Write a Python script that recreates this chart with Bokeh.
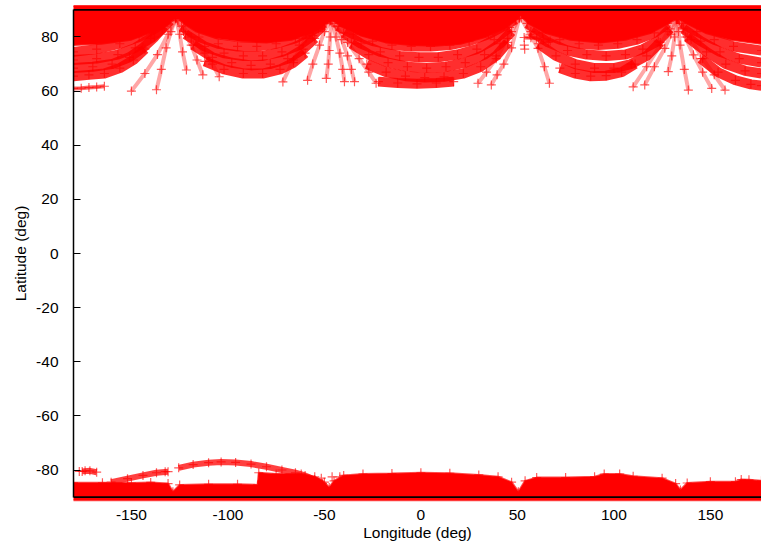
from bokeh.plotting import figure
from bokeh.models import Range1d, Span, FixedTicker, CustomJSTickFormatter
from bokeh.embed import file_html
from bokeh.resources import INLINE

# ---- data (longitude, latitude in degrees) ----
# upper edge of the solid northern coverage
top_lon = [-180, -165.5, -150, -137, -130.3, -126.7, -123, -116.3, -106, -93, -80, -67, -57, -51, -46,
           -41.5, -31, -18.3, -5.4, 7.5, 20.5, 33.5, 43.8, 49, 51.6, 55.7, 64.6, 77.5, 93, 106, 119,
           128.5, 133, 137.7, 147.5, 160.5, 176.5]
top_lat = [77.0, 77.5, 79.0, 82.5, 85.0, 87.4, 85.0, 82.0, 79.5, 78.3, 78.0, 79.0, 81.5, 84.0, 86.3,
           84.0, 80.5, 78.0, 77.0, 76.8, 77.5, 80.0, 83.5, 86.0, 87.8, 85.0, 81.5, 79.0, 78.0, 79.0, 81.5,
           85.0, 87.0, 85.0, 81.5, 79.0, 77.5]

# U-shaped track bands below the solid northern coverage
arc_lons = [
    [-180, -168, -156, -146, -138, -132],
    [-180, -168, -157, -148, -140, -134, -130],
    [-180, -170, -160, -151, -144, -138, -133],
    [-180, -172, -164, -156, -149, -143],
    [-124, -115, -105, -95, -85, -75, -65, -56, -50],
    [-122, -112, -102, -92, -82, -72, -63, -56, -51],
    [-118, -108, -98, -88, -78, -69, -61, -55],
    [-112, -102, -92, -82, -73, -66, -60],
    [-43, -35, -25, -15, -5, 5, 15, 25, 35, 43, 49],
    [-40, -31, -21, -11, -1, 9, 19, 29, 38, 46],
    [-36, -27, -17, -7, 3, 13, 23, 33, 41, 47],
    [-28, -18, -8, 2, 12, 22, 31, 39, 45],
    [-22, -12, -2, 8, 17],
    [55, 63, 72, 82, 92, 102, 112, 121, 128],
    [57, 66, 76, 86, 96, 106, 115, 123, 129],
    [61, 70, 80, 90, 100, 109, 117, 124],
    [72, 80, 88, 96, 104, 111],
    [135, 143, 152, 162, 176.5],
    [136, 145, 155, 165, 176.5],
    [138, 148, 158, 168, 176.5],
    [145, 154, 163, 171, 176.5],
]
arc_lats = [
    [74.5, 75.5, 77.5, 80, 83, 86],
    [71.5, 72, 73.5, 76, 79.5, 83, 86],
    [68.5, 69, 70, 72.5, 76, 80, 84],
    [65.5, 66, 66.5, 68.5, 71.5, 75.5],
    [84, 80, 77.5, 76.5, 76.5, 77.5, 79.5, 82.5, 85],
    [81, 76.5, 74, 73, 73, 74.5, 77, 80.5, 84],
    [77, 72.5, 70.5, 69.5, 70, 72, 75.5, 79.5],
    [71, 68, 66.5, 66.5, 68, 70.5, 74],
    [84, 81, 78.5, 77, 76.5, 76.5, 77, 78.5, 81, 84, 86.5],
    [81.5, 77.5, 74.5, 73, 72.5, 72.5, 73.5, 75.5, 79, 83.5],
    [77.5, 73.5, 70.5, 69, 68.5, 69, 70.5, 73.5, 77.5, 82],
    [70, 67, 65.5, 65, 65.3, 66.5, 69, 73, 78],
    [63.5, 63, 62.7, 63, 63.5],
    [85, 81.5, 79, 77.5, 77, 77.5, 79, 81.5, 85],
    [82, 78, 75, 73.5, 73, 73.5, 75.5, 78.5, 83],
    [77.5, 73, 70, 68.5, 68.5, 70, 73, 78],
    [68.5, 66.5, 65.5, 65.7, 67, 70],
    [85, 82, 79, 76.5, 75],
    [83, 78.5, 74.5, 72, 70.5],
    [80, 74.5, 70, 67.5, 66.5],
    [72, 67, 64, 62.5, 62],
]

# thin short strings of points
thin_lons = [[-180, -176, -172, -168, -164], [53.5, 57, 60, 63.5, 67]]
thin_lats = [[61, 61.1, 61.3, 61.5, 61.8], [79.8, 79.7, 79.5, 79.0, 78.5]]

# fan-shaped strings of points spreading below each northern cusp
fan_lons = [
    [-127, -131, -136.5, -143, -150],
    [-127, -129.5, -132, -134.5, -137],
    [-127, -125, -123.5, -121.5],
    [-127, -123, -119, -116, -113],
    [-126, -119, -112, -108, -104.5],
    [-47, -53, -59.5, -66, -71.5],
    [-47, -50, -52.5, -56, -58.7],
    [-46.5, -47, -47.5, -48, -49],
    [-46, -44, -42, -40.5, -39.6],
    [-45, -41, -38, -36, -34.4],
    [-44, -38, -32, -27, -23.2],
    [51, 45, 39, 34, 29.6],
    [51, 47, 43, 39.5, 36.5],
    [52, 56.5, 60.7, 64, 66.6],
    [132.5, 128, 124, 117, 110],
    [132.5, 129.5, 126.4, 121, 116],
    [133, 131.5, 130, 128.2],
    [133, 133.5, 134.3, 136.5, 138.6],
    [133.5, 137, 141.2, 146, 150.7],
    [134, 140, 146, 152, 157.6],
]
fan_lats = [
    [87, 81, 73.5, 66.5, 60],
    [87, 82, 76, 68, 60.5],
    [87, 81, 74.5, 67.8],
    [87, 82, 77, 71.5, 66],
    [86, 80, 74, 70, 65.3],
    [86, 83, 79.5, 71.5, 63.4],
    [86, 82, 77, 70, 64],
    [86, 80, 75, 70, 64.7],
    [86, 80, 74, 68, 63.5],
    [85, 79, 73, 68, 63.5],
    [84, 78, 72, 67, 62.9],
    [87, 79.5, 72, 67, 62.9],
    [87, 76, 70, 66, 62.3],
    [87, 81, 75.8, 69, 62.9],
    [86.5, 82, 77, 69, 61.6],
    [86.5, 81, 75.8, 69, 62.3],
    [86.5, 80, 73, 67.2],
    [86.5, 82, 77, 68, 60.4],
    [86.5, 80, 73.4, 67, 61],
    [86, 79, 72, 66, 60.4],
]

# upper edge of the solid southern coverage
bot_lon = [-180, -165, -150, -140, -131, -128.5, -125, -110, -95, -84.6, -84, -75, -62, -55, -50,
           -47.5, -45, -40, -30, -15, 0, 15, 30, 40, 47, 50.5, 54, 60, 75, 90, 95, 103, 110, 125,
           132, 134.5, 138, 150, 163, 166, 170, 176.5]
bot_lat = [-84.7, -84.7, -84.8, -84.6, -85, -88, -85.5, -85.3, -85.3, -85.5, -81, -81.5, -81.5, -82.5,
           -84.5, -86.5, -84, -82, -81.5, -81.3, -81, -81.2, -81.8, -82.5, -84.5, -88, -84, -82.8,
           -82.8, -82.5, -81.5, -81.5, -82.3, -83, -85, -87.4, -84.8, -84.3, -84.3, -83.5, -83.6, -84]

# southern track bands
barc_lons = [
    [-175.5, -171.5, -168],
    [-160.5, -152, -144, -137, -131],
    [-125.5, -118, -110, -103.5, -96, -88, -80, -72, -65, -60, -55, -51],
]
barc_lats = [
    [-80.5, -80.3, -80.8],
    [-84.5, -83.2, -82, -81, -80.6],
    [-79.2, -78, -77.3, -77, -77.2, -77.8, -78.8, -80, -81, -82, -83.5, -85],
]

# isolated points
stray_lon = [53.6, 53.8, -132.5, -51.6, -46, -42, -177, -174]
stray_lat = [77, 75.5, -80.6, -83, -82.5, -82.5, -80.5, -80.3]

x_ticks = [-150, -100, -50, 0, 50, 100, 150]
y_ticks = [-80, -60, -40, -20, 0, 20, 40, 60, 80]

RED = "#ff0000"
FONT = "Liberation Sans"

p = figure(width=761, height=547, output_backend="svg", toolbar_location=None,
           x_range=Range1d(-180, 176.5), y_range=Range1d(-92, 92),
           min_border_left=73, min_border_right=0, min_border_top=4, min_border_bottom=45,
           x_axis_label="Longitude (deg)", y_axis_label="Latitude (deg)")
p.outline_line_color = None
p.xgrid.grid_line_color = None
p.ygrid.grid_line_color = None
p.background_fill_color = "white"
p.border_fill_color = "white"

# solid northern area
tx = [-182] + top_lon + [178, 178, -182]
ty = [top_lat[0]] + top_lat + [top_lat[-1], 91.4, 91.4]
p.patch(tx, ty, fill_color=RED, line_color=RED, line_width=2, line_alpha=0.8)

# solid southern area
bx = [-182] + bot_lon + [178, 178, -182]
by = [bot_lat[0]] + bot_lat + [bot_lat[-1], -91.2, -91.2]
p.patch(bx, by, fill_color=RED, line_color=RED, line_width=2, line_alpha=0.7)

# bands
p.multi_line(arc_lons, arc_lats, line_color=RED, line_width=10, line_alpha=0.82,
             line_cap="butt", line_join="round")
p.multi_line(thin_lons, thin_lats, line_color=RED, line_width=4, line_alpha=0.6,
             line_cap="butt", line_join="round")
p.multi_line(barc_lons, barc_lats, line_color=RED, line_width=6, line_alpha=0.75,
             line_cap="butt", line_join="round")
p.multi_line(fan_lons, fan_lats, line_color=RED, line_width=4, line_alpha=0.35,
             line_cap="butt", line_join="round")

# cross markers
def flat(a):
    return [v for row in a for v in row]

cross = dict(marker="cross", size=9, line_color=RED, line_alpha=0.65, line_width=1.2)
p.scatter(flat(fan_lons), flat(fan_lats), **cross)
p.scatter(flat(arc_lons), flat(arc_lats), **cross)
p.scatter(flat(thin_lons), flat(thin_lats), **cross)
p.scatter(bot_lon, bot_lat, **cross)
p.scatter(flat(barc_lons), flat(barc_lats), **cross)
p.scatter(stray_lon, stray_lat, **cross)

# frame lines
p.add_layout(Span(location=90, dimension="width", line_color="black", line_width=1.6))
p.add_layout(Span(location=-90, dimension="width", line_color="black", line_width=1.6))

fmt = CustomJSTickFormatter(code="return String(tick);")

xa = p.xaxis[0]
xa.ticker = FixedTicker(ticks=x_ticks)
xa.formatter = fmt
xa.axis_line_color = None
xa.major_tick_line_color = None
xa.minor_tick_line_color = None
xa.major_tick_in = 0
xa.major_tick_out = 0
xa.major_label_standoff = 7
xa.axis_label_standoff = 1

ya = p.yaxis[0]
ya.ticker = FixedTicker(ticks=y_ticks)
ya.formatter = fmt
ya.bounds = (-90, 90)
ya.axis_line_color = "black"
ya.axis_line_width = 1.5
ya.major_tick_line_color = "black"
ya.major_tick_line_width = 1
ya.major_tick_in = 7
ya.major_tick_out = 0
ya.minor_tick_line_color = None
ya.major_label_standoff = 15
ya.axis_label_standoff = 4

for ax in (xa, ya):
    ax.major_label_text_font = FONT
    ax.major_label_text_font_size = "15.5px"
    ax.major_label_text_color = "black"
    ax.axis_label_text_font = FONT
    ax.axis_label_text_font_size = "15.5px"
    ax.axis_label_text_font_style = "normal"
    ax.axis_label_text_color = "black"

open("out.html", "w").write(file_html(p, INLINE))
